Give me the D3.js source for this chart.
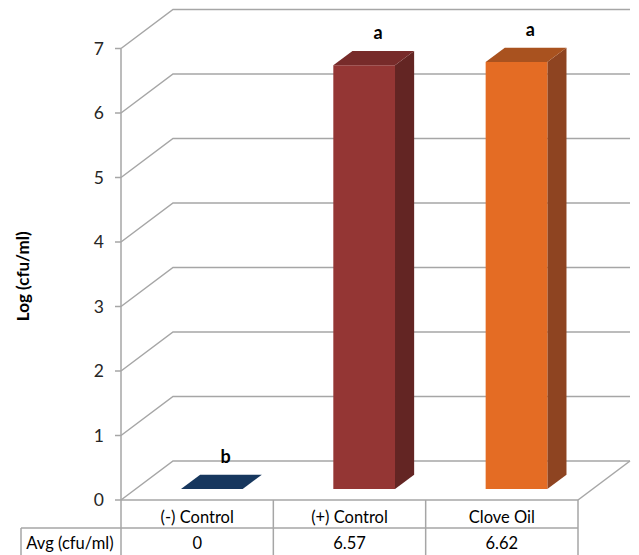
<!DOCTYPE html>
<html>
<head>
<meta charset="utf-8">
<script src="https://cdn.jsdelivr.net/npm/d3@7"></script>
<style>
  html, body { margin: 0; padding: 0; background: #fff; }
  svg { display: block; font-family: Lato, "Open Sans", sans-serif; }
</style>
</head>
<body>
<svg id="chart" width="639" height="555"></svg>
<script>
// Treatments and their average log counts
const categories = ["(-) Control", "(+) Control", "Clove Oil"];
const avgLog = [0, 6.57, 6.62];
const letters = ["b", "a", "a"];
const tickValues = [0, 1, 2, 3, 4, 5, 6, 7];
const rowLabel = "Avg (cfu/ml)";
const axisTitle = "Log (cfu/ml)";

const faceColors = [
  { front: "#17375e", side: "#10283f", top: "#17375e" },
  { front: "#943634", side: "#632523", top: "#772b2a" },
  { front: "#e46c24", side: "#8e4421", top: "#a9521f" }
];

const svg = d3.select("#chart");

// Plot frame: front plane + oblique depth
const x0 = 121, x1 = 578, yBase = 500, yTop = 48.5;
const depthDx = 52, depthDy = -39;
const barD0 = 0.282, barD1 = 0.65;

const y = d3.scaleLinear().domain([0, 7]).range([yBase, yTop]);
const x = d3.scaleBand().domain(categories).range([x0, x1])
  .paddingInner(0.595).paddingOuter(0.2975);

const proj = (px, py, d) => [px + depthDx * d, py + depthDy * d];
const gridColor = "#a6a6a6";

// Side wall and back wall gridlines
const grid = svg.append("g").attr("fill", "none").attr("stroke", gridColor).attr("stroke-width", 1.5);
tickValues.forEach(t => {
  const yy = y(t);
  const b = proj(x0, yy, 1);
  grid.append("path").attr("d", d3.line()([[x0, yy], b, [x1 + depthDx, b[1]]]));
});

// Floor right edge
const fr = proj(x1, yBase, 1);
grid.append("path").attr("d", d3.line()([[x1, yBase], fr]));

// Vertical axis and ticks
svg.append("line").attr("x1", x0).attr("x2", x0).attr("y1", y(7)).attr("y2", yBase)
  .attr("stroke", gridColor).attr("stroke-width", 1.5);
const ticks = svg.append("g");
tickValues.forEach(t => {
  ticks.append("line").attr("x1", x0 - 6).attr("x2", x0).attr("y1", y(t)).attr("y2", y(t))
    .attr("stroke", gridColor).attr("stroke-width", 1.5);
  ticks.append("text").attr("x", x0 - 17).attr("y", y(t)).attr("dy", "0.36em")
    .attr("text-anchor", "end").attr("font-size", 17.5).attr("fill", "#262626").text(t);
});

// Axis title
svg.append("text")
  .attr("transform", `translate(29, ${(y(7) + yBase) / 2 + 2}) rotate(-90)`)
  .attr("text-anchor", "middle").attr("font-size", 17).attr("font-weight", "bold")
  .attr("fill", "#000").text(axisTitle);

// 3D bars
const bars = svg.append("g");
categories.forEach((c, i) => {
  const v = avgLog[i];
  const col = faceColors[i];
  const xl = x(c), xr = x(c) + x.bandwidth();
  const yb = y(0), yt = y(v);
  const fBL = proj(xl, yb, barD0), fBR = proj(xr, yb, barD0);
  const fTL = proj(xl, yt, barD0), fTR = proj(xr, yt, barD0);
  const bTL = proj(xl, yt, barD1), bTR = proj(xr, yt, barD1);
  const bBR = proj(xr, yb, barD1);
  const poly = pts => "M" + pts.map(p => p.join(",")).join("L") + "Z";
  if (v > 0) {
    bars.append("path").attr("d", poly([fBR, bBR, bTR, fTR])).attr("fill", col.side);
    bars.append("path").attr("d", poly([fBL, fBR, fTR, fTL])).attr("fill", col.front);
  }
  bars.append("path").attr("d", poly([fTL, fTR, bTR, bTL])).attr("fill", col.top);

  // significance letter above the bar top
  const cx = (xl + xr) / 2 + 28.5;
  bars.append("text").attr("x", cx).attr("y", bTL[1] - 18).attr("dy", "0.36em")
    .attr("text-anchor", "middle").attr("font-size", 18).attr("font-weight", "bold")
    .attr("fill", "#000").text(letters[i]);
});

// Data table under the plot
const tableColor = "#a6a6a6";
const rowH = 28;
const row1 = yBase, row2 = yBase + rowH, row3 = yBase + 2 * rowH;
const edges = [x0].concat(categories.map(c => x(c) - x.step() * x.paddingInner() / 2 + x.step()));
const tbl = svg.append("g").attr("stroke", tableColor).attr("stroke-width", 1.5);
tbl.append("line").attr("x1", x0).attr("x2", x1).attr("y1", row1).attr("y2", row1);
tbl.append("line").attr("x1", 21).attr("x2", x1).attr("y1", row2).attr("y2", row2);
tbl.append("line").attr("x1", 21).attr("x2", 21).attr("y1", row2).attr("y2", row3);
edges.forEach(ex => {
  tbl.append("line").attr("x1", ex).attr("x2", ex).attr("y1", row1).attr("y2", row3);
});

const cellText = svg.append("g").attr("font-size", 16.5).attr("fill", "#000").attr("text-anchor", "middle");
categories.forEach((c, i) => {
  const cx = (edges[i] + edges[i + 1]) / 2;
  cellText.append("text").attr("x", cx).attr("y", row1 + rowH / 2 + 3).attr("dy", "0.36em").text(c);
  cellText.append("text").attr("x", cx).attr("y", row2 + rowH / 2 + 1).attr("dy", "0.36em").text(avgLog[i]);
});
cellText.append("text").attr("x", 70).attr("y", row2 + rowH / 2 + 1).attr("dy", "0.36em").text(rowLabel);
</script>
</body>
</html>
